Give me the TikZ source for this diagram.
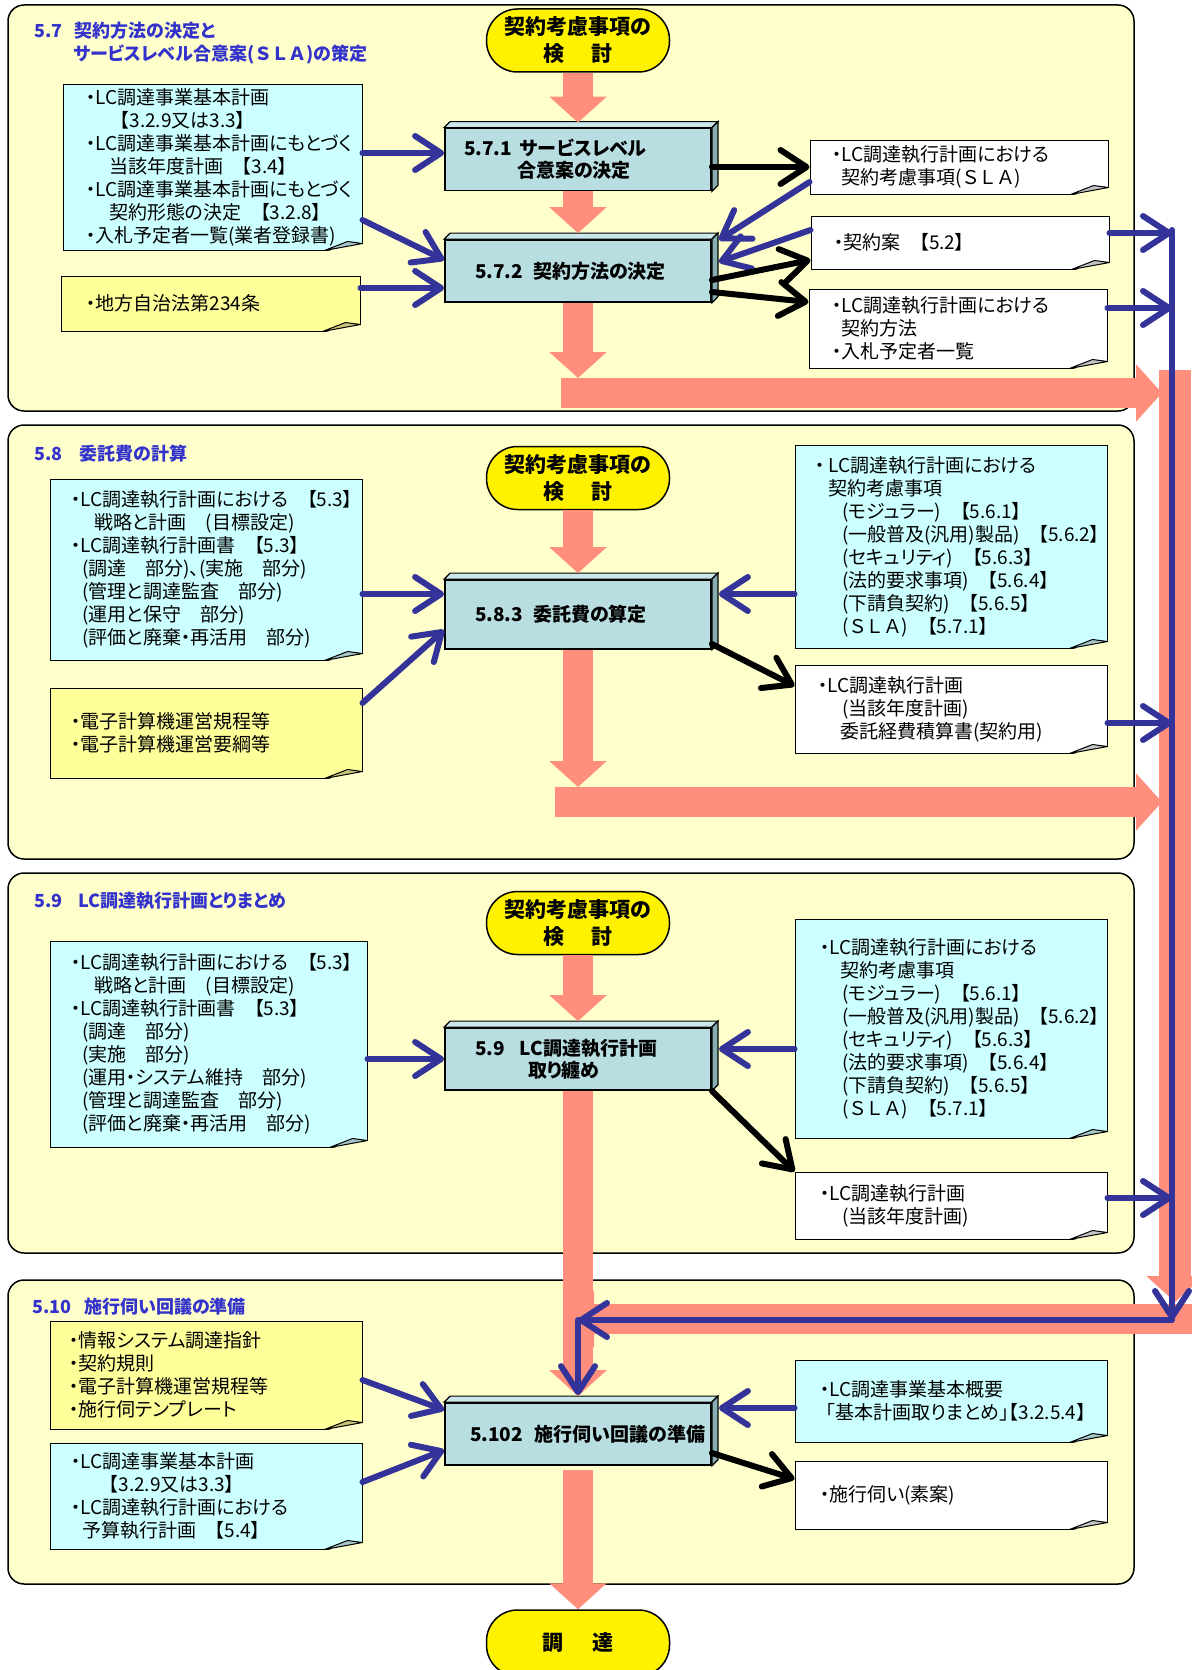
\documentclass[tikz,border=0pt]{standalone}
\usepackage{fontspec}
\setmainfont{Noto Sans CJK JP}[RawFeature=+palt]
\usetikzlibrary{arrows.meta}

\definecolor{panelbg}{HTML}{FFFFCC}
\definecolor{notecyan}{HTML}{CCFFFF}
\definecolor{noteyellow}{HTML}{FFFF99}
\definecolor{procfill}{HTML}{B9DEE2}
\definecolor{proctop}{HTML}{CBE7E9}
\definecolor{procside}{HTML}{88AEB2}
\definecolor{flowpink}{HTML}{FF8F7C}
\definecolor{linkblue}{HTML}{333399}
\definecolor{titleblue}{HTML}{3333CC}
\definecolor{foldcyan}{HTML}{A6C6C8}
\definecolor{foldyellow}{HTML}{C8C47A}
\definecolor{foldwhite}{HTML}{C4C4C4}

\newcommand{\notefont}{\fontsize{19}{23}\selectfont}
\newcommand{\procfont}{\fontsize{19}{22}\selectfont\bfseries}
\newcommand{\revfont}{\fontsize{21}{27}\selectfont\bfseries}
\newcommand{\titlefont}{\fontsize{18}{23}\selectfont\bfseries}
\newcommand{\sla}{(\kern2pt Ｓ\kern4pt Ｌ\kern4pt Ａ\kern2pt)}

% raised edge of a process box
\newcommand{\procbevel}[1]{%
  \filldraw[fill=proctop, line width=1.2pt] (#1.north west) -- ++(6pt,6pt) -- ([shift={(6pt,6pt)}]#1.north east) -- (#1.north east) -- cycle;
  \filldraw[fill=procside, line width=1.2pt] (#1.north east) -- ++(6pt,6pt) -- ([shift={(6pt,6pt)}]#1.south east) -- (#1.south east) -- cycle;
}
% turned-up corner of a note
\newcommand{\dogear}[2]{%
  \fill[panelbg] ([shift={(-39pt,-1.5pt)}]#1.south east) -- ([shift={(1.5pt,-1.5pt)}]#1.south east) -- ([shift={(1.5pt,8pt)}]#1.south east) -- cycle;
  \filldraw[fill=#2, line width=1pt, line join=round] ([xshift=-38pt]#1.south east) -- ([yshift=7pt]#1.south east) -- ([shift={(-15pt,9pt)}]#1.south east) -- cycle;
}

\tikzset{
    x=1pt, y=-1pt,
    panel/.style={draw=black, line width=1.5pt, fill=panelbg, rounded corners=16pt},
    sectitle/.style={anchor=west, inner sep=0pt, align=left, text=titleblue, font=\titlefont},
    review/.style={draw=black, line width=1.5pt, fill=yellow, rounded corners=31pt,
        minimum width=183pt, minimum height=63pt, inner sep=0pt, align=center, font=\revfont},
    proc/.style={draw=black, line width=1.8pt, fill=procfill, minimum width=266pt,
        minimum height=62pt, inner ysep=0pt, align=left, font=\procfont},
    note/.style={draw=black, line width=1pt, inner ysep=0pt, align=left, font=\notefont},
    cyannote/.style={note, fill=notecyan},
    yellownote/.style={note, fill=noteyellow},
    whitenote/.style={note, fill=white},
    flow/.style={draw=flowpink, line width=30pt, -{Triangle[length=26pt, width=56pt]}},
    inlink/.style={draw=linkblue, line width=6pt, line cap=round,
        -{Straight Barb[length=26pt, width=34pt, round]}},
    outlink/.style={inlink, draw=black}
}

\begin{document}
\begin{tikzpicture}
\useasboundingbox (0,0) rectangle (1191,1670);

% sections
\filldraw[panel] (8,5) rectangle (1134,411);
\filldraw[panel] (8,425) rectangle (1134,859);
\filldraw[panel] (8,873) rectangle (1134,1253);
\filldraw[panel] (8,1280) rectangle (1134,1584);

\node[sectitle] (t57) at (34,43.5) {5.7\kern12pt 契約方法の決定と\\\hspace*{39pt}サービスレベル合意案\sla の策定};
\node[sectitle] (t58) at (34,454) {5.8\kern17pt 委託費の計算};
\node[sectitle] (t59) at (34,901) {5.9\kern16pt LC調達執行計画とりまとめ};
\node[sectitle] (t510) at (32,1307) {5.10\kern13pt 施行伺い回議の準備};

% 5.7
\node[review] (rev1) at (578,40.5) {契約考慮事項の\\検\kern28pt 討};
\node[proc, inner xsep=19pt, text width=228pt] (b571) at (578,159.5) {5.7.1\kern8pt サービスレベル\\\hspace*{53pt}合意案の決定};
\node[proc, inner xsep=30pt, text width=206pt] (b572) at (578,271) {5.7.2\kern10pt 契約方法の決定};
\procbevel{b571}
\procbevel{b572}

\node[cyannote, minimum width=299pt, minimum height=166pt, inner xsep=23pt, text width=253pt] (nA) at (212.5,167)
    {・LC調達事業基本計画\\\hspace*{34pt}【3.2.9又は3.3】\\・LC調達事業基本計画にもとづく\\\hspace*{23pt}当該年度計画　【3.4】\\・LC調達事業基本計画にもとづく\\\hspace*{23pt}契約形態の決定　【3.2.8】\\・入札予定者一覧(業者登録書)};
\node[yellownote, minimum width=299pt, minimum height=55pt, inner xsep=25pt, text width=249pt] (nB) at (210.5,303.5)
    {・地方自治法第234条};
\node[whitenote, minimum width=298pt, minimum height=54pt, inner xsep=22pt, text width=254pt] (nSLA) at (959,167)
    {・LC調達執行計画における\\\hspace*{9pt}契約考慮事項\sla};
\node[whitenote, minimum width=298pt, minimum height=53pt, inner xsep=23pt, text width=252pt] (nDraft) at (960,242.5)
    {・契約案　【5.2】};
\node[whitenote, minimum width=298pt, minimum height=79pt, inner xsep=23pt, text width=252pt] (nMeth) at (958,328.5)
    {・LC調達執行計画における\\\hspace*{9pt}契約方法\\・入札予定者一覧};
\dogear{nA}{foldcyan}
\dogear{nB}{foldyellow}
\dogear{nSLA}{foldwhite}
\dogear{nDraft}{foldwhite}
\dogear{nMeth}{foldwhite}

% 5.8
\node[review] (rev2) at (578,478) {契約考慮事項の\\検\kern28pt 討};
\node[proc, minimum height=69pt, inner xsep=30pt, text width=206pt] (b583) at (578,614.5) {5.8.3\kern10pt 委託費の算定};
\procbevel{b583}

\node[cyannote, minimum width=312pt, minimum height=181pt, inner xsep=21pt, text width=270pt] (nC) at (206,569.5)
    {・LC調達執行計画における　【5.3】\\\hspace*{23pt}戦略と計画　(目標設定)\\・LC調達執行計画書　【5.3】\\\hspace*{11pt}(調達　部分)、(実施　部分)\\\hspace*{11pt}(管理と調達監査　部分)\\\hspace*{11pt}(運用と保守　部分)\\\hspace*{11pt}(評価と廃棄・再活用　部分)};
\node[yellownote, minimum width=312pt, minimum height=90pt, inner xsep=21pt, text width=270pt] (nD) at (206,733)
    {・電子計算機運営規程等\\・電子計算機運営要綱等};
\node[cyannote, minimum width=312pt, minimum height=203pt, inner xsep=20pt, text width=272pt] (nE) at (951,546.5)
    {・\kern4pt LC調達執行計画における\\\hspace*{13pt}契約考慮事項\\\hspace*{27pt}(モジュラー)　【5.6.1】\\\hspace*{27pt}(一般普及(汎用)製品)　【5.6.2】\\\hspace*{27pt}(セキュリティ)　【5.6.3】\\\hspace*{27pt}(法的要求事項)　【5.6.4】\\\hspace*{27pt}(下請負契約)　【5.6.5】\\\hspace*{27pt}\sla　【5.7.1】};
\node[whitenote, minimum width=312pt, minimum height=88pt, inner xsep=23pt, text width=266pt] (nF) at (951,709)
    {・LC調達執行計画\\\hspace*{24pt}(当該年度計画)\\\hspace*{22pt}委託経費積算書(契約用)};
\dogear{nC}{foldcyan}
\dogear{nD}{foldyellow}
\dogear{nE}{foldcyan}
\dogear{nF}{foldwhite}

% 5.9
\node[review] (rev3) at (578,923) {契約考慮事項の\\検\kern28pt 討};
\node[proc, inner xsep=30pt, text width=206pt] (b59) at (578,1059) {5.9\kern15pt LC調達執行計画\\\hspace*{53pt}取り纏め};
\procbevel{b59}

\node[cyannote, minimum width=317pt, minimum height=206pt, inner xsep=21pt, text width=275pt] (nG) at (208.5,1044)
    {・LC調達執行計画における　【5.3】\\\hspace*{23pt}戦略と計画　(目標設定)\\・LC調達執行計画書　【5.3】\\\hspace*{11pt}(調達　部分)\\\hspace*{11pt}(実施　部分)\\\hspace*{11pt}(運用・システム維持　部分)\\\hspace*{11pt}(管理と調達監査　部分)\\\hspace*{11pt}(評価と廃棄・再活用　部分)};
\node[cyannote, minimum width=312pt, minimum height=219pt, inner xsep=25pt, text width=262pt] (nH) at (951,1028.5)
    {・LC調達執行計画における\\\hspace*{20pt}契約考慮事項\\\hspace*{22pt}(モジュラー)　【5.6.1】\\\hspace*{22pt}(一般普及(汎用)製品)　【5.6.2】\\\hspace*{22pt}(セキュリティ)　【5.6.3】\\\hspace*{22pt}(法的要求事項)　【5.6.4】\\\hspace*{22pt}(下請負契約)　【5.6.5】\\\hspace*{22pt}\sla　【5.7.1】};
\node[whitenote, minimum width=312pt, minimum height=67pt, inner xsep=25pt, text width=262pt] (nI) at (951,1205.5)
    {・LC調達執行計画\\\hspace*{22pt}(当該年度計画)};
\dogear{nG}{foldcyan}
\dogear{nH}{foldcyan}
\dogear{nI}{foldwhite}

% 5.10
\node[proc, inner xsep=25pt, text width=216pt] (b5102) at (578,1434) {5.102\kern12pt 施行伺い回議の準備};
\procbevel{b5102}
\node[review, minimum height=66pt] (rev4) at (578,1643) {調\kern30pt 達};

\node[yellownote, minimum width=312pt, minimum height=108pt, inner xsep=19pt, text width=274pt] (nJ) at (206,1375)
    {・情報システム調達指針\\・契約規則\\・電子計算機運営規程等\\・施行伺テンプレート};
\node[cyannote, minimum width=312pt, minimum height=106pt, inner xsep=21pt, text width=270pt] (nK) at (206,1496)
    {・LC調達事業基本計画\\\hspace*{38pt}【3.2.9又は3.3】\\・LC調達執行計画における\\\hspace*{11pt}予算執行計画　【5.4】};
\node[cyannote, minimum width=312pt, minimum height=82pt, inner xsep=25pt, text width=262pt] (nL) at (951,1401)
    {・LC調達事業基本概要\\\hspace*{6pt}「基本計画取りまとめ」【3.2.5.4】};
\node[whitenote, minimum width=312pt, minimum height=68pt, inner xsep=25pt, text width=262pt] (nM) at (951,1495)
    {・施行伺い(素案)};
\dogear{nJ}{foldyellow}
\dogear{nK}{foldcyan}
\dogear{nL}{foldcyan}
\dogear{nM}{foldwhite}

% main flow
\coordinate (flow1a) at (561,393);
\coordinate (flow1b) at (1162,393);
\coordinate (flow2a) at (555,802);
\coordinate (flow2b) at (1162,802);
\coordinate (flowRa) at (1175,370);
\coordinate (flowRb) at (1175,1302);
\coordinate (flow4a) at (1195,1319);
\coordinate (flow4b) at (568,1319);
\draw[flow] (rev1.south) -- ([yshift=5pt]b571.north);
\draw[flow] (b571.south) -- ([yshift=6pt]b572.north);
\draw[flow, shorten >=15pt] (b572.south) -- (b572.south |- flow1a);
\draw[flow] (flow1a) -- (flow1b);
\draw[flow, line width=32pt] (flowRa) -- (flowRb);
\draw[flow] (rev2.south) -- ([yshift=6pt]b583.north);
\draw[flow, shorten >=15pt] (b583.south) -- (b583.south |- flow2a);
\draw[flow] (flow2a) -- (flow2b);
\draw[flow] (rev3.south) -- ([yshift=6pt]b59.north);
\draw[flow] (b59.south) -- ([yshift=6pt]b5102.north);
\draw[flow] (flow4a) -- (flow4b);
\draw[flow, shorten <=4pt] (b5102.south) -- (rev4.north);

% inputs and outputs, 5.7
\draw[inlink] ([yshift=14pt]nA.east) -- ([yshift=6.5pt]b571.west);
\draw[inlink] ([yshift=-53pt]nA.east) -- ([yshift=11pt]b572.west);
\draw[inlink] ([yshift=15.5pt]nB.east) -- ([yshift=-17pt]b572.west);
\draw[outlink] (b571.east |- nSLA.west) -- (nSLA.west);
\draw[inlink] ([yshift=-15pt]nSLA.west) -- ([shift={(7pt,31pt)}]b572.east);
\draw[inlink] ([yshift=12.5pt]nDraft.west) -- ([shift={(7pt,9pt)}]b572.east);
\draw[outlink] ([yshift=-9pt]b572.east) -- ([yshift=-17.5pt]nDraft.west);
\draw[outlink] ([yshift=-21pt]b572.east) -- ([yshift=26.5pt]nMeth.west);

% 5.8
\draw[inlink] ([yshift=-24.5pt]nC.east) -- ([yshift=20.5pt]b583.west);
\draw[inlink] ([yshift=30pt]nD.east) -- ([yshift=-15.5pt]b583.west);
\draw[inlink] ([yshift=-47.5pt]nE.west) -- ([shift={(7pt,20.5pt)}]b583.east);
\draw[outlink] ([yshift=-29.5pt]b583.east) -- ([yshift=23pt]nF.west);

% 5.9
\draw[inlink] (nG.east |- b59.west) -- (b59.west);
\draw[inlink] ([yshift=-20.5pt]nH.west) -- ([shift={(7pt,10pt)}]b59.east);
\draw[outlink] (b59.south east) -- (nI.north west);

% 5.10
\draw[inlink] ([yshift=-5pt]nJ.east) -- ([yshift=24pt]b5102.west);
\draw[inlink] ([yshift=14pt]nK.east) -- ([yshift=-16pt]b5102.west);
\draw[inlink] ([yshift=-7pt]nL.west) -- ([shift={(7pt,26pt)}]b5102.east);
\draw[outlink] ([yshift=-19pt]b5102.east) -- ([yshift=16pt]nM.west);

% results collected on the right
\coordinate (busA) at (1172,233);
\coordinate (busB) at (1172,308);
\coordinate (busC) at (1172,723);
\coordinate (busD) at (1172,1198);
\coordinate (busturn) at (1172,1320);
\coordinate (busleft) at (578,1320);
\draw[inlink] ([yshift=9.5pt]nDraft.east) -- (busA);
\draw[inlink] ([yshift=20.5pt]nMeth.east) -- (busB);
\draw[inlink] ([yshift=-14pt]nF.east) -- (busC);
\draw[inlink] ([yshift=7.5pt]nI.east) -- (busD);
\draw[inlink] ([yshift=3pt]busA) -- (busturn);
\draw[inlink] (busturn) -- (busleft);
\draw[inlink] (busleft) -- ([yshift=7pt]b5102.north);
\end{tikzpicture}
\end{document}
